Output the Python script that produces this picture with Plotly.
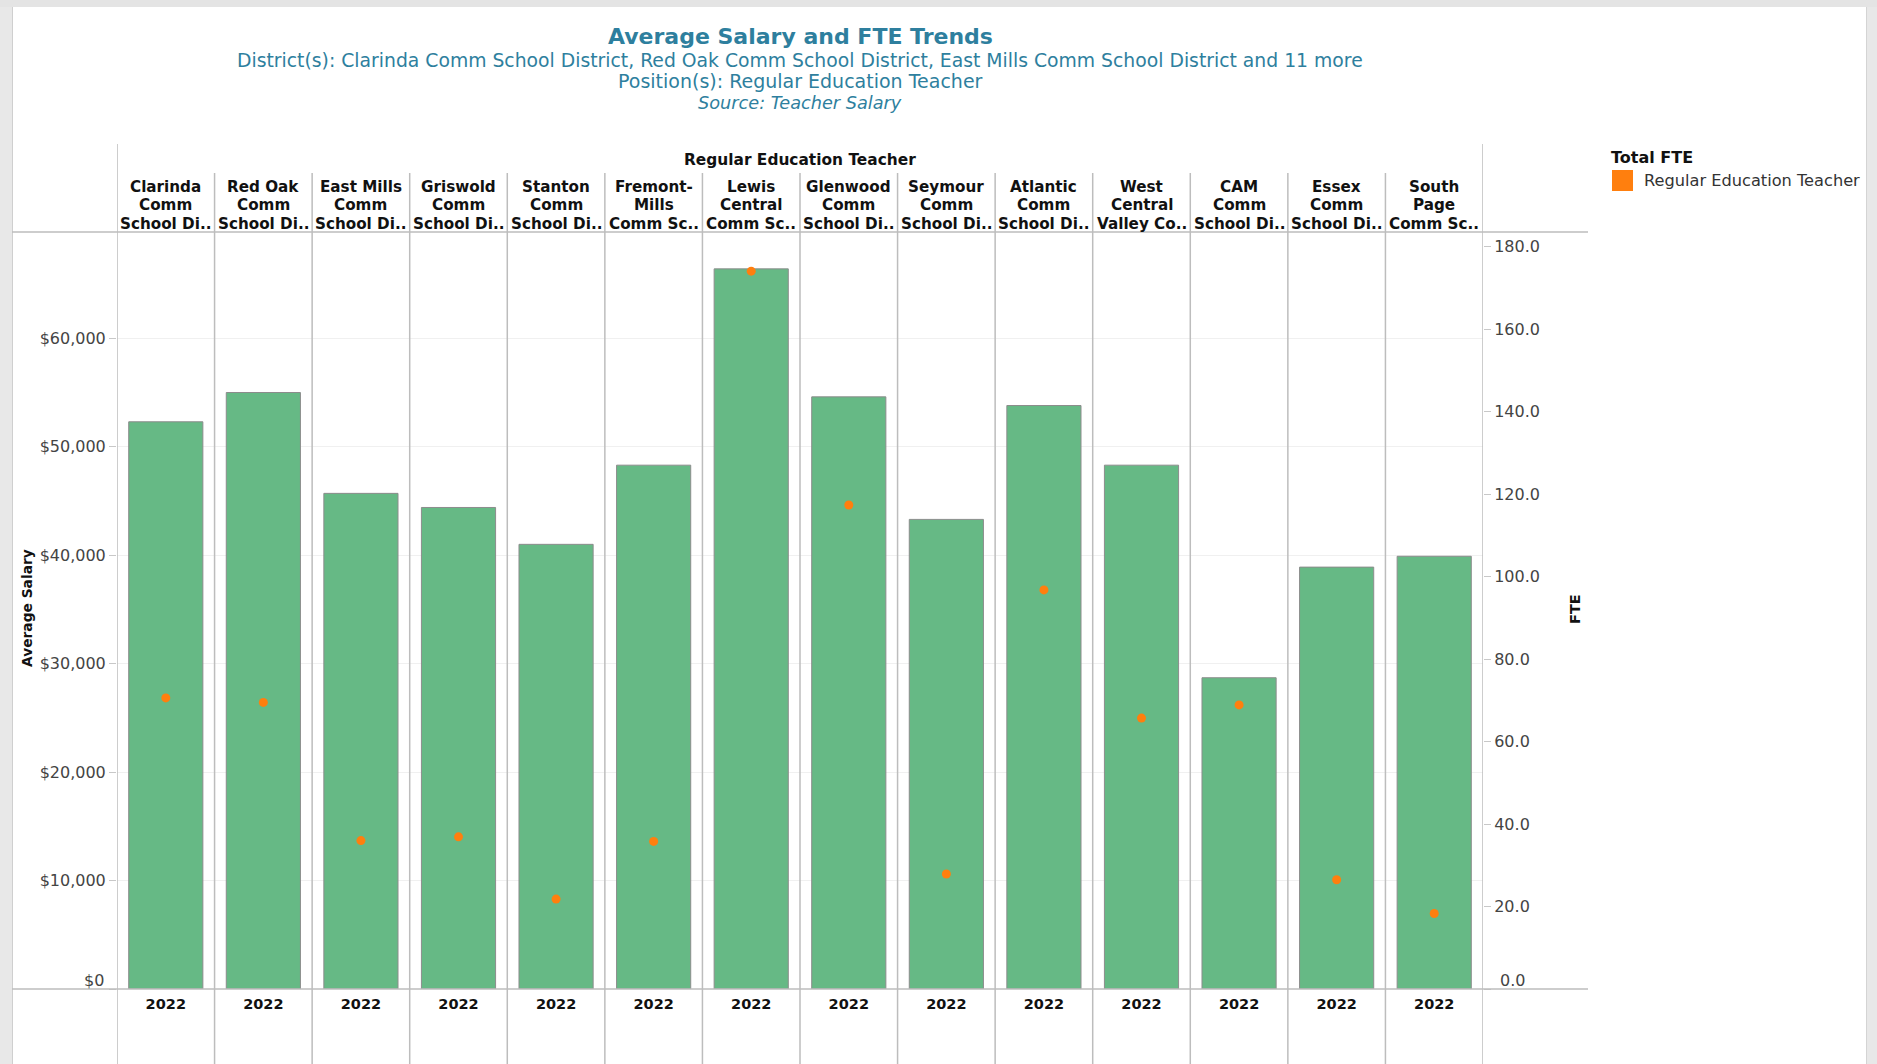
import plotly.graph_objects as go

# ---------------- data ----------------
districts = [
    "Clarinda Comm School District", "Red Oak Comm School District",
    "East Mills Comm School District", "Griswold Comm School District",
    "Stanton Comm School District", "Fremont-Mills Comm School District",
    "Lewis Central Comm School District", "Glenwood Comm School District",
    "Seymour Comm School District", "Atlantic Comm School District",
    "West Central Valley Comm School District", "CAM Comm School District",
    "Essex Comm School District", "South Page Comm School District",
]
header_labels = [
    "Clarinda<br>Comm<br>School Di..", "Red Oak<br>Comm<br>School Di..",
    "East Mills<br>Comm<br>School Di..", "Griswold<br>Comm<br>School Di..",
    "Stanton<br>Comm<br>School Di..", "Fremont-<br>Mills<br>Comm Sc..",
    "Lewis<br>Central<br>Comm Sc..", "Glenwood<br>Comm<br>School Di..",
    "Seymour<br>Comm<br>School Di..", "Atlantic<br>Comm<br>School Di..",
    "West<br>Central<br>Valley Co..", "CAM<br>Comm<br>School Di..",
    "Essex<br>Comm<br>School Di..", "South<br>Page<br>Comm Sc..",
]
years = ["2022"] * 14
avg_salary = [52300, 55000, 45700, 44400, 41000, 48300, 66400,
              54600, 43300, 53800, 48300, 28700, 38900, 39900]
fte = [70.6, 69.5, 36.0, 36.9, 21.8, 35.8, 174.1,
       117.4, 27.9, 96.8, 65.7, 68.9, 26.5, 18.3]
salary_ticks = [0, 10000, 20000, 30000, 40000, 50000, 60000]
fte_ticks = [0, 20, 40, 60, 80, 100, 120, 140, 160, 180]
position = "Regular Education Teacher"

# ---------------- geometry helpers (pixels -> paper) ----------------
W, H = 1877, 1064
L, R, T, B = 117, 1483, 232, 989
PW, PH = R - L, B - T


def xp(px):
    return (px - L) / PW


def yp(py):
    return (B - py) / PH


FONT = "'DejaVu Sans', Verdana, sans-serif"
TEAL = "#2e7f9e"

fig = go.Figure()
fig.add_trace(go.Bar(
    x=districts, y=avg_salary, width=0.76,
    marker=dict(color="#66b985", line=dict(color="#8c8c8c", width=1)),
    name="Average Salary", showlegend=False, yaxis="y",
))
fig.add_trace(go.Scatter(
    x=districts, y=fte, mode="markers",
    marker=dict(color="#ff7f0e", size=9),
    name=position, showlegend=False, yaxis="y2",
))

shapes = []
# page frame (grey surround)
shapes.append(dict(type="rect", xref="paper", yref="paper", x0=xp(0), x1=xp(12),
                   y0=yp(H), y1=yp(0), fillcolor="#e8e8e8", line=dict(width=0), layer="below"))
shapes.append(dict(type="rect", xref="paper", yref="paper", x0=xp(1867), x1=xp(W),
                   y0=yp(H), y1=yp(0), fillcolor="#e8e8e8", line=dict(width=0), layer="below"))
shapes.append(dict(type="rect", xref="paper", yref="paper", x0=xp(0), x1=xp(W),
                   y0=yp(7), y1=yp(0), fillcolor="#e4e4e4", line=dict(width=0), layer="below"))
shapes.append(dict(type="line", xref="paper", yref="paper", x0=xp(12.5), x1=xp(12.5),
                   y0=yp(H), y1=yp(7), line=dict(color="#cfcfcf", width=1)))
shapes.append(dict(type="line", xref="paper", yref="paper", x0=xp(1866.5), x1=xp(1866.5),
                   y0=yp(H), y1=yp(7), line=dict(color="#d4d4d4", width=1)))

GRID = "#bdbdbd"
# horizontal pane borders
for yy in (T, B):
    shapes.append(dict(type="line", xref="paper", yref="paper", x0=xp(12), x1=xp(1588),
                       y0=yp(yy), y1=yp(yy), line=dict(color=GRID, width=1.5)))
# outer vertical borders
for xx in (-0.5, len(districts) - 0.5):
    shapes.append(dict(type="line", xref="x", yref="paper", x0=xx, x1=xx,
                       y0=yp(H), y1=yp(144), line=dict(color=GRID, width=1.5)))
# internal column separators
for i in range(1, len(districts)):
    shapes.append(dict(type="line", xref="x", yref="paper", x0=i - 0.5, x1=i - 0.5,
                       y0=yp(H), y1=yp(173), line=dict(color=GRID, width=1.5)))

annotations = []
# titles
annotations.append(dict(text="<b>Average Salary and FTE Trends</b>", x=0.5, y=yp(36),
                        xref="paper", yref="paper", showarrow=False, xanchor="center",
                        yanchor="middle", font=dict(size=22, color=TEAL, family=FONT)))
annotations.append(dict(text="District(s): " + ", ".join(districts[:3]) + " and 11 more",
                        x=0.5, y=yp(60), xref="paper", yref="paper", showarrow=False,
                        xanchor="center", yanchor="middle",
                        font=dict(size=18.8, color=TEAL, family=FONT)))
annotations.append(dict(text="Position(s): " + position, x=0.5, y=yp(81),
                        xref="paper", yref="paper", showarrow=False, xanchor="center",
                        yanchor="middle", font=dict(size=19, color=TEAL, family=FONT)))
annotations.append(dict(text="<i>Source: Teacher Salary</i>", x=0.5, y=yp(103),
                        xref="paper", yref="paper", showarrow=False, xanchor="center",
                        yanchor="middle", font=dict(size=17.7, color=TEAL, family=FONT)))
# header
annotations.append(dict(text="<b>" + position + "</b>", x=0.5, y=yp(160),
                        xref="paper", yref="paper", showarrow=False, xanchor="center",
                        yanchor="middle", font=dict(size=15.4, color="#111", family=FONT)))
line_y = [187, 205, 224]
for d, lab in zip(districts, header_labels):
    for k, part in enumerate(lab.split("<br>")):
        annotations.append(dict(text="<b>" + part + "</b>", x=d, y=yp(line_y[k]),
                                xref="x", yref="paper", showarrow=False, xanchor="center",
                                yanchor="middle",
                                font=dict(size=15.2, color="#111", family=FONT)))
# axis titles
annotations.append(dict(text="<b>Average Salary</b>", x=xp(27), y=yp(608), xref="paper",
                        yref="paper", showarrow=False, textangle=-90, xanchor="center",
                        yanchor="middle", font=dict(size=13.8, color="#111", family=FONT)))
annotations.append(dict(text="<b>FTE</b>", x=xp(1575), y=yp(609), xref="paper",
                        yref="paper", showarrow=False, textangle=-90, xanchor="center",
                        yanchor="middle", font=dict(size=14.5, color="#111", family=FONT)))
# zero labels sit just above the baseline
annotations.append(dict(text="$" + format(salary_ticks[0], ","), x=xp(106), y=yp(980),
                        xref="paper", yref="paper", showarrow=False, xanchor="right",
                        yanchor="middle", font=dict(size=16, color="#444", family=FONT)))
annotations.append(dict(text=f"{fte_ticks[0]:.1f}", x=xp(1498), y=yp(980),
                        xref="paper", yref="paper", showarrow=False, xanchor="left",
                        yanchor="middle", font=dict(size=16, color="#444", family=FONT)))
# legend (manual)
annotations.append(dict(text="<b>Total FTE</b>", x=xp(1609), y=yp(158), xref="paper",
                        yref="paper", showarrow=False, xanchor="left", yanchor="middle",
                        font=dict(size=16, color="#111", family=FONT)))
annotations.append(dict(text=position, x=xp(1642), y=yp(181), xref="paper",
                        yref="paper", showarrow=False, xanchor="left", yanchor="middle",
                        font=dict(size=16.2, color="#333", family=FONT)))
shapes.append(dict(type="rect", xref="paper", yref="paper", x0=xp(1612), x1=xp(1633),
                   y0=yp(191), y1=yp(170), fillcolor="#ff7f0e", line=dict(width=0)))

fig.update_layout(
    width=W, height=H,
    margin=dict(l=L, r=W - R, t=T, b=H - B, pad=0),
    paper_bgcolor="white", plot_bgcolor="rgba(0,0,0,0)",
    font=dict(family=FONT, color="#444"),
    showlegend=False,
    bargap=0.24,
    xaxis=dict(type="category", categoryorder="array", categoryarray=districts,
               range=[-0.5, len(districts) - 0.5], tickvals=districts, ticktext=years,
               showgrid=False, showline=False, zeroline=False, ticks="",
               ticklabelstandoff=4,
               tickfont=dict(size=14.5, color="#111", family=FONT, weight="bold")),
    yaxis=dict(range=[0, 69800], tickvals=salary_ticks,
               ticktext=[("$" + format(v, ",")) if v else "" for v in salary_ticks],
               showgrid=True, gridcolor="#f0f0f0", gridwidth=1, zeroline=False,
               showline=False, ticks="outside", ticklen=7, tickcolor="#c8c8c8",
               tickfont=dict(size=16, color="#444", family=FONT)),
    yaxis2=dict(range=[0, 183.6], tickvals=fte_ticks,
                ticktext=[f"{v:.1f}" if v else "" for v in fte_ticks], overlaying="y",
                side="right", showgrid=False, zeroline=False, showline=False,
                ticks="outside", ticklen=7, tickcolor="#c8c8c8",
                tickfont=dict(size=16, color="#444", family=FONT)),
    shapes=shapes, annotations=annotations,
)

fig.write_html("out.html", config={"displayModeBar": False},
               post_script="document.body.style.margin='0';")
